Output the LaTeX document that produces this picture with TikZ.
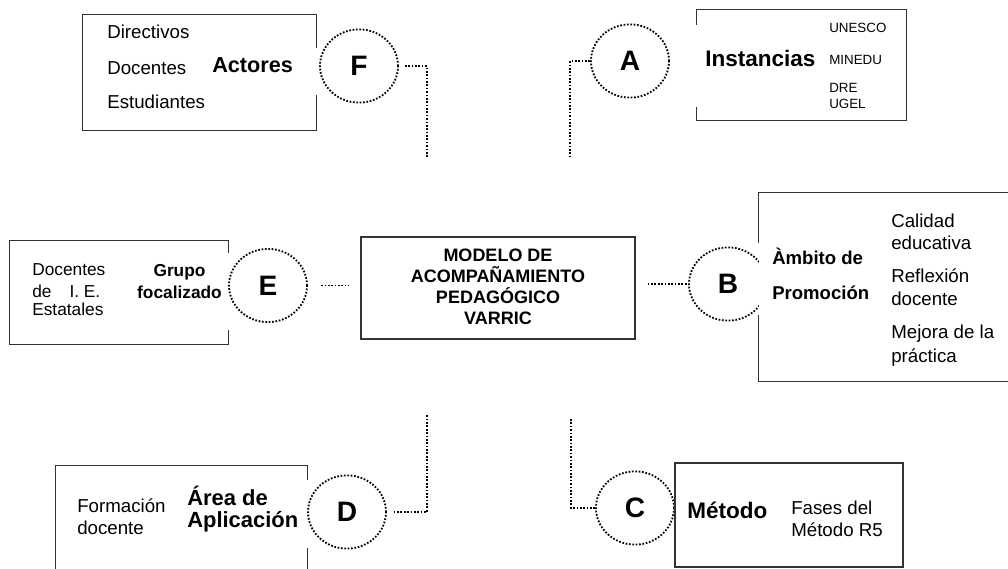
\documentclass[tikz,border=0pt]{standalone}
\usepackage{fontspec}
\setmainfont{Liberation Sans}
\usetikzlibrary{shapes.geometric,fit}

\tikzset{
  frame/.style={draw=black!80, line width=1pt},
  letter/.style={ellipse, draw, line width=1.3pt, dash pattern=on 1.2pt off 1.2pt,
    fill=white, minimum width=1.95cm, minimum height=1.83cm, inner sep=0pt,
    font=\bfseries\fontsize{20}{22}\selectfont},
  link/.style={line width=1.3pt, dash pattern=on 1.2pt off 1.2pt},
  item/.style={anchor=base west, inner sep=0pt, font=\fontsize{13.3}{16}\selectfont},
  head/.style={anchor=base west, inner sep=0pt, font=\bfseries\fontsize{15.6}{18}\selectfont}
}

\begin{document}
\begin{tikzpicture}[x=0.025cm,y=-0.025cm]
    \useasboundingbox (0,0) rectangle (1008,569);
    \clip (0,0) rectangle (1008,569);
    % ellipses with the letters
    \node[letter] (circF) at (359,66) {F};
    \node[letter] (circA) at (630,61) {A};
    \node[letter] (circE) at (268,285.5) {E};
    \node[letter] (circB) at (728,284) {B};
    \node[letter] (circD) at (347,512) {D};
    \node[letter] (circC) at (635,508) {C};
    % boxes
    \node[fit={(83,15) (316,130)}, inner sep=0pt] (boxF) {};
    \draw[frame] (boxF.east |- 0,48) -- (boxF.north east) -- (boxF.north west)
        -- (boxF.south west) -- (boxF.south east) -- (boxF.east |- 0,95);
    \node[fit={(697,10) (906,120)}, inner sep=0pt] (boxA) {};
    \draw[frame] (boxA.west |- 0,25) -- (boxA.north west) -- (boxA.north east)
        -- (boxA.south east) -- (boxA.south west) -- (boxA.west |- 0,107);
    \node[fit={(10,241) (228,344)}, inner sep=0pt] (boxE) {};
    \draw[frame] (boxE.east |- 0,253) -- (boxE.north east) -- (boxE.north west)
        -- (boxE.south west) -- (boxE.south east) -- (boxE.east |- 0,330);
    \node[fit={(759,193) (1015,381)}, inner sep=0pt, fill=white] (boxB) {};
    \draw[frame] (boxB.west |- 0,243) -- (boxB.north west) -- (boxB.north east)
        -- (boxB.south east) -- (boxB.south west) -- (boxB.west |- 0,315);
    \node[fit={(56,466) (307,585)}, inner sep=0pt] (boxD) {};
    \draw[frame] (boxD.east |- 0,480) -- (boxD.north east) -- (boxD.north west)
        -- (boxD.south west) -- (boxD.south east) -- (boxD.east |- 0,548);
    \node[frame, fit={(675,463) (903,567)}, inner sep=0pt] (boxC) {};
    \node[frame, fit={(361,237) (635,339)}, inner sep=0pt] (model) {};
    \node[align=center, font=\bfseries\fontsize{12.8}{14.9}\selectfont] (modelText) at (498,287)
        {MODELO DE\\ACOMPAÑAMIENTO\\PEDAGÓGICO\\VARRIC};
    % connectors
    \coordinate (fEnd) at (427,157);
    \coordinate (aEnd) at (570,157);
    \coordinate (dEnd) at (427,415);
    \coordinate (cEnd) at (571,419);
    \draw[link, shorten <=0.15cm] (circF.east) -| (fEnd);
    \draw[link] (circA.west) -| (aEnd);
    \draw[link, shorten <=0.33cm, shorten >=0.28cm] (circE.east) -- (circE.east -| model.west);
    \draw[link, shorten <=0.3cm] (model.east |- circB.west) -- (circB.west);
    \draw[link, shorten <=0.17cm] (circD.east) -| (dEnd);
    \draw[link] (circC.west) -| (cEnd);
    % F: actores
    \node[item] (fDir) at (107,39) {Directivos};
    \node[item] (fDoc) at (107,75) {Docentes};
    \node[item] (fEst) at (107,109) {Estudiantes};
    \node[head, font=\bfseries\fontsize{15.4}{18}\selectfont] (fHead) at (212,73) {Actores};
    % A: instancias
    \node[head, font=\bfseries\fontsize{16}{18}\selectfont] (aHead) at (705,67) {Instancias};
    \node[item, font=\fontsize{9.5}{11}\selectfont] (aUne) at (829,33) {UNESCO};
    \node[item, font=\fontsize{9.5}{11}\selectfont] (aMin) at (829,65) {MINEDU};
    \node[item, font=\fontsize{9.5}{11}\selectfont] (aDre) at (829,93) {DRE};
    \node[item, font=\fontsize{9.5}{11}\selectfont] (aUge) at (829,109) {UGEL};
    % E: grupo focalizado
    \node[item, font=\fontsize{12.3}{15}\selectfont] (eDoc) at (32,276) {Docentes};
    \node[item, font=\fontsize{12.3}{15}\selectfont] (eDe) at (32,298) {\makebox[1.7cm][s]{de\hfill I. E.}};
    \node[item, font=\fontsize{12.3}{15}\selectfont] (eEst) at (32,316) {Estatales};
    \node[head, anchor=base, font=\bfseries\fontsize{12.3}{15}\selectfont] (eHead1) at (179.5,277) {Grupo};
    \node[head, anchor=base, font=\bfseries\fontsize{12.3}{15}\selectfont] (eHead2) at (179.5,299) {focalizado};
    % B: ambito de promocion
    \node[head, font=\bfseries\fontsize{13.2}{16}\selectfont] (bHead1) at (772,265) {Àmbito de};
    \node[head, font=\bfseries\fontsize{13.2}{16}\selectfont] (bHead2) at (772,300) {Promoción};
    \node[item] (bCal) at (891,228) {Calidad};
    \node[item] (bEdu) at (891,250) {educativa};
    \node[item] (bRef) at (891,283) {Reflexión};
    \node[item] (bDoc) at (891,306) {docente};
    \node[item] (bMej) at (891,339) {Mejora de la};
    \node[item] (bPra) at (891,363) {práctica};
    % D: area de aplicacion
    \node[item] (dFor) at (77,513) {Formación};
    \node[item] (dDoc) at (77,535) {docente};
    \node[head] (dHead1) at (187,506) {Área de};
    \node[head] (dHead2) at (187,528) {Aplicación};
    % C: metodo
    \node[head, font=\bfseries\fontsize{16}{18}\selectfont] (cHead) at (687,519) {Método};
    \node[item] (cFas) at (791,515) {Fases del};
    \node[item] (cMet) at (791,537) {Método R5};
\end{tikzpicture}
\end{document}
